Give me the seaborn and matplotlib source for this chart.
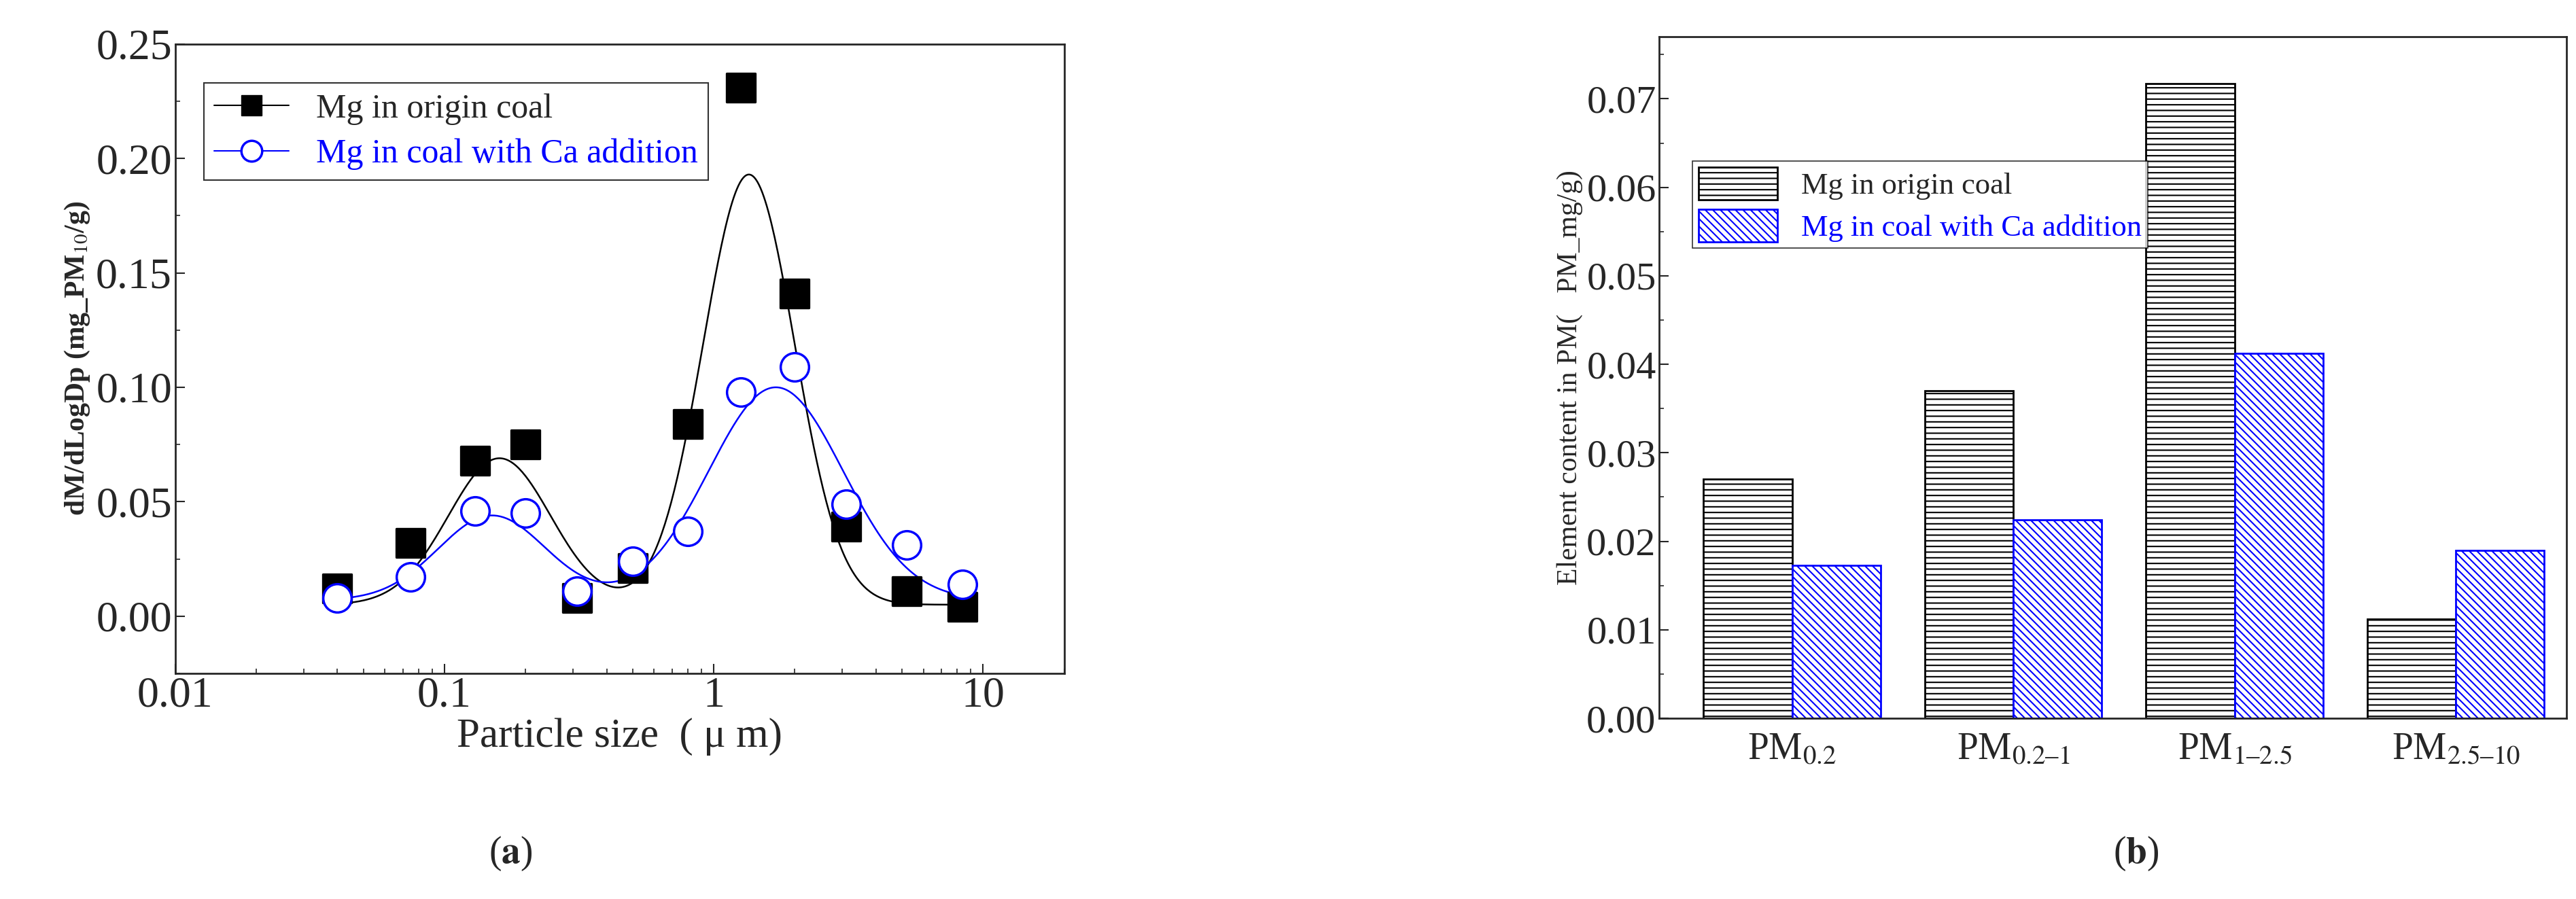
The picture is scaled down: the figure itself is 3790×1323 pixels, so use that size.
import numpy as np
import pandas as pd
import matplotlib
matplotlib.use("Agg")
import matplotlib.pyplot as plt
import seaborn as sns
from matplotlib.patches import Patch
from matplotlib.lines import Line2D
from matplotlib.ticker import MultipleLocator, LogLocator, NullFormatter, FixedLocator, FixedFormatter

sns.set_theme(style="ticks")
plt.rcParams['font.family'] = ['Liberation Serif', 'DejaVu Serif']
plt.rcParams['mathtext.fontset'] = 'stix'
plt.rcParams['hatch.linewidth'] = 1.5

# ---- data (a)
size_um = [0.04, 0.075, 0.13, 0.2, 0.31, 0.5, 0.8, 1.26, 2.0, 3.1, 5.2, 8.4]
mg_origin = [0.012, 0.032, 0.068, 0.075, 0.008, 0.021, 0.084, 0.231, 0.141, 0.039, 0.011, 0.004]
mg_ca = [0.008, 0.017, 0.046, 0.045, 0.011, 0.024, 0.037, 0.098, 0.109, 0.049, 0.031, 0.014]
# bimodal lognormal fit parameters: (baseline, amp1, centre1, sigma1, amp2, centre2, sigma2)
fit_origin = [0.005, 0.064, 0.16, 0.19, 0.188, 1.35, 0.17]
fit_ca = [0.007, 0.037, 0.15, 0.2, 0.093, 1.7, 0.25]

# ---- data (b)
pm_labels = ['PM$_{0.2}$', 'PM$_{0.2\u20131}$', 'PM$_{1\u20132.5}$', 'PM$_{2.5\u201310}$']
bar_origin = [0.027, 0.037, 0.0717, 0.0112]
bar_ca = [0.0173, 0.0224, 0.0412, 0.019]
series_names = ['Mg in origin coal', 'Mg in coal with Ca addition']

def fitcurve(x, p):
    b, a1, c1, s1, a2, c2, s2 = p
    lx = np.log10(x)
    return b + a1*np.exp(-(lx-np.log10(c1))**2/(2*s1**2)) + a2*np.exp(-(lx-np.log10(c2))**2/(2*s2**2))

fig = plt.figure(figsize=(37.91, 13.23), dpi=100)
ax1 = fig.add_axes([0.068, 0.251, 0.345, 0.70])
ax2 = fig.add_axes([0.644, 0.201, 0.352, 0.758])

xs = np.logspace(np.log10(0.04), np.log10(8.4), 400)
sns.lineplot(x=xs, y=fitcurve(xs, fit_origin), ax=ax1, color='black', lw=1.8)
sns.lineplot(x=xs, y=fitcurve(xs, fit_ca), ax=ax1, color='blue', lw=1.8)
sns.scatterplot(x=size_um, y=mg_origin, ax=ax1, marker='s', s=900, color='black', edgecolor='black', zorder=3)
sns.scatterplot(x=size_um, y=mg_ca, ax=ax1, marker='o', s=900, facecolor='white', edgecolor='blue', linewidth=2.5, zorder=4)
ax1.set_xscale('log')
ax1.set_xlim(0.01, 20)
ax1.set_ylim(-0.025, 0.25)
ax1.yaxis.set_major_locator(MultipleLocator(0.05))
ax1.yaxis.set_minor_locator(MultipleLocator(0.025))
ax1.yaxis.set_major_formatter(matplotlib.ticker.FuncFormatter(lambda v, p: f"{v:.2f}"))
ax1.xaxis.set_major_locator(FixedLocator([0.01, 0.1, 1, 10]))
ax1.xaxis.set_major_formatter(FixedFormatter(['0.01', '0.1', '1', '10']))
ax1.xaxis.set_minor_locator(LogLocator(subs=np.arange(2, 10)))
ax1.xaxis.set_minor_formatter(NullFormatter())
ax1.tick_params(axis='both', which='major', direction='in', length=10, width=1.5, labelsize=46)
ax1.tick_params(axis='both', which='minor', direction='in', length=5, width=1.2)
ax1.set_xlabel('Particle size  ( μ m)', fontsize=44, labelpad=2)
ax1.set_ylabel('dM/dLogDp (mg_PM$_{10}$/g)', fontsize=30, fontweight='bold')
for sp in ax1.spines.values():
    sp.set_linewidth(2)
h1 = [Line2D([], [], color='black', marker='s', markersize=22, lw=1.5),
      Line2D([], [], color='blue', marker='o', markersize=22, markerfacecolor='white', markeredgewidth=2.5, lw=1.5)]
leg = ax1.legend(h1, series_names, loc='upper left', bbox_to_anchor=(0.013, 0.965), fontsize=36,
                 frameon=True, fancybox=False, edgecolor='black', handlelength=2.2, borderpad=0.3, labelspacing=0.4)
leg.get_frame().set_linewidth(1.5)
leg.get_texts()[1].set_color('blue')
fig.text(0.198, 0.04, r'($\mathbf{a}$)', fontsize=40, ha='center')

# ---- panel b
df = pd.DataFrame({'cat': pm_labels * 2,
                   'val': bar_origin + bar_ca,
                   'series': [series_names[0]] * 4 + [series_names[1]] * 4})
sns.barplot(data=df, x='cat', y='val', hue='series', ax=ax2, palette=['white', 'white'],
            width=0.8, legend=False, saturation=1)
for i, p in enumerate(ax2.patches[:8]):
    if i < 4:
        p.set_edgecolor('black'); p.set_hatch('--')
    else:
        p.set_edgecolor('blue'); p.set_hatch('\\\\\\')
    p.set_linewidth(2)
ax2.set_ylim(0, 0.077)
ax2.set_xlim(-0.6, 3.5)
ax2.yaxis.set_major_locator(MultipleLocator(0.01))
ax2.yaxis.set_minor_locator(MultipleLocator(0.005))
ax2.yaxis.set_major_formatter(matplotlib.ticker.FuncFormatter(lambda v, p: f"{v:.2f}"))
ax2.tick_params(axis='y', which='major', direction='in', length=10, width=1.5, labelsize=42)
ax2.tick_params(axis='y', which='minor', direction='in', length=5, width=1.2)
ax2.tick_params(axis='x', length=0, labelsize=40, pad=14)
ax2.set_xlabel('')
ax2.set_ylabel('Element content in PM(   PM_mg/g)', fontsize=30)
for sp in ax2.spines.values():
    sp.set_linewidth(2)
h2 = [Patch(facecolor='white', edgecolor='black', hatch='--', lw=2),
      Patch(facecolor='white', edgecolor='blue', hatch='\\\\\\', lw=2)]
leg2 = ax2.legend(h2, series_names, loc='upper left', bbox_to_anchor=(0.02, 0.84), fontsize=32,
                  frameon=True, fancybox=False, edgecolor='black', handlelength=2.6, handleheight=1.3,
                  borderpad=0.2, labelspacing=0.3)
leg2.get_frame().set_linewidth(1.2)
leg2.get_texts()[1].set_color('blue')
fig.text(0.829, 0.04, r'($\mathbf{b}$)', fontsize=40, ha='center')

fig.savefig('out.png', dpi=100)
